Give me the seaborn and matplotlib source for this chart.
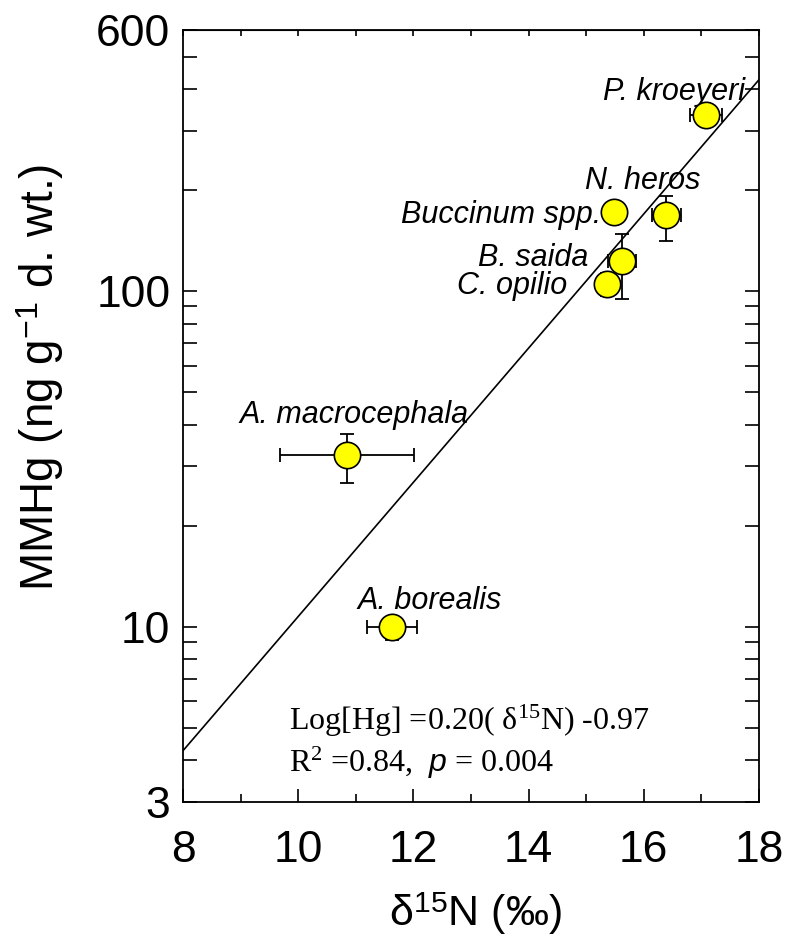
import numpy as np
import pandas as pd
import matplotlib
matplotlib.use("Agg")
import matplotlib.pyplot as plt
import seaborn as sns
from matplotlib.ticker import FixedLocator, NullFormatter, FixedFormatter

sns.set_style("ticks")
plt.rcParams['font.family'] = ['Liberation Sans', 'DejaVu Sans']
plt.rcParams.update({
    'text.color': 'black', 'axes.labelcolor': 'black',
    'xtick.color': 'black', 'ytick.color': 'black', 'axes.edgecolor': 'black',
    'mathtext.fontset': 'custom', 'mathtext.rm': 'Liberation Serif',
    'mathtext.sf': 'Liberation Sans:italic', 'mathtext.it': 'Liberation Serif:italic',
})

# ---- data ----
species = ["P. kroeyeri", "N. heros", "Buccinum spp.", "B. saida",
           "C. opilio", "A. macrocephala", "A. borealis"]
d15n = [17.08, 16.39, 15.48, 15.62, 15.36, 10.85, 11.63]
d15n_err = [0.28, 0.25, 0.0, 0.24, 0.12, 1.16, 0.43]
mmhg = [335, 168, 172, 123, 105, 32.5, 10.0]
mmhg_lo = [320, 141, 172, 95, 97, 26.7, 9.1]
mmhg_hi = [350, 192, 172, 148, 113, 37.5, 10.6]
slope, intercept = 0.20, -0.97
x_ticks = [8, 10, 12, 14, 16, 18]
y_ticks = [3, 10, 100, 600]

# label offsets from each point (pixels: left edge, baseline)
label_dx = [-103, -81, -213, -144, -150, -108, -35]
label_dy = [15, 26, -11, -5, -10, 32, 18]

df = pd.DataFrame({"species": species, "d15N": d15n, "MMHg": mmhg})

fig = plt.figure(figsize=(7.86, 9.40), dpi=100)
ax = fig.add_axes([183/786, 1-802/940, (759-183)/786, (802-30)/940])

# regression line
xl = np.array([8.0, 18.0])
line_df = pd.DataFrame({"x": xl, "y": 10**(slope*xl + intercept)})
sns.lineplot(data=line_df, x="x", y="y", ax=ax, color="black", lw=1.2, zorder=2)

# error bars
yerr = np.array([np.array(mmhg) - np.array(mmhg_lo), np.array(mmhg_hi) - np.array(mmhg)])
ax.errorbar(d15n, mmhg, xerr=d15n_err, yerr=yerr, fmt="none", ecolor="black",
            elinewidth=1.3, capsize=5, capthick=1.3, zorder=3)

sns.scatterplot(data=df, x="d15N", y="MMHg", ax=ax, s=360, color="#FFFF00",
                edgecolor="black", linewidth=1.2, zorder=4)

ax.set_yscale("log")
ax.set_xlim(8, 18)
ax.set_ylim(3, 600)

ax.xaxis.set_major_locator(FixedLocator(x_ticks))
ax.xaxis.set_minor_locator(FixedLocator(np.arange(9, 18, 2)))
ax.yaxis.set_major_locator(FixedLocator(y_ticks))
ax.yaxis.set_major_formatter(FixedFormatter([str(v) for v in y_ticks]))
minors = list(range(4, 10)) + list(range(20, 100, 10)) + list(range(200, 600, 100))
ax.yaxis.set_minor_locator(FixedLocator(minors))
ax.yaxis.set_minor_formatter(NullFormatter())

ax.tick_params(axis="x", which="both", direction="in", top=False, bottom=True, width=1.2)
ax.tick_params(axis="x", which="major", length=9.5, labelsize=32, pad=20)
ax.tick_params(axis="x", which="minor", length=5.5)
ax.tick_params(axis="y", which="both", direction="in", left=True, right=True,
               length=10, width=1.2)
ax.tick_params(axis="y", which="major", labelsize=32, pad=9)
for s in ax.spines.values():
    s.set_linewidth(1.3)

top = ax.secondary_xaxis("top")
top.xaxis.set_major_locator(FixedLocator(np.arange(8, 19, 1)))
top.tick_params(direction="in", length=4, width=1.2, labeltop=False)

ax.set_xlabel("δ$^{\\mathregular{15}}$N (‰)", fontsize=31)
ax.xaxis.set_label_coords((475-183)/576, -(914-802)/772)
ax.xaxis.label.set_va("center")
ax.set_ylabel("MMHg (ng g$^{\\mathregular{-1}}$ d. wt.)", fontsize=33)
ax.yaxis.set_label_coords((40-183)/576, (802-377)/772)
ax.yaxis.label.set_va("center")

for name, x, y, dx, dy in zip(species, d15n, mmhg, label_dx, label_dy):
    ax.annotate(name, (x, y), xytext=(dx, dy), textcoords="offset pixels",
                fontsize=22, style="italic", ha="left", va="baseline", zorder=1)

serif = ['Liberation Serif', 'DejaVu Serif']
ax.annotate("Log[Hg] =0.20( δ$^{\\mathregular{15}}$N) -0.97", (289, 940-730),
            xycoords="figure pixels", family=serif, fontsize=23, ha="left", va="baseline")
ax.annotate("R$^{\\mathregular{2}}$ =0.84,  $\\mathsf{p}$ = 0.004", (289, 940-772),
            xycoords="figure pixels", family=serif, fontsize=23, ha="left", va="baseline")

fig.savefig("out.png", dpi=100)
